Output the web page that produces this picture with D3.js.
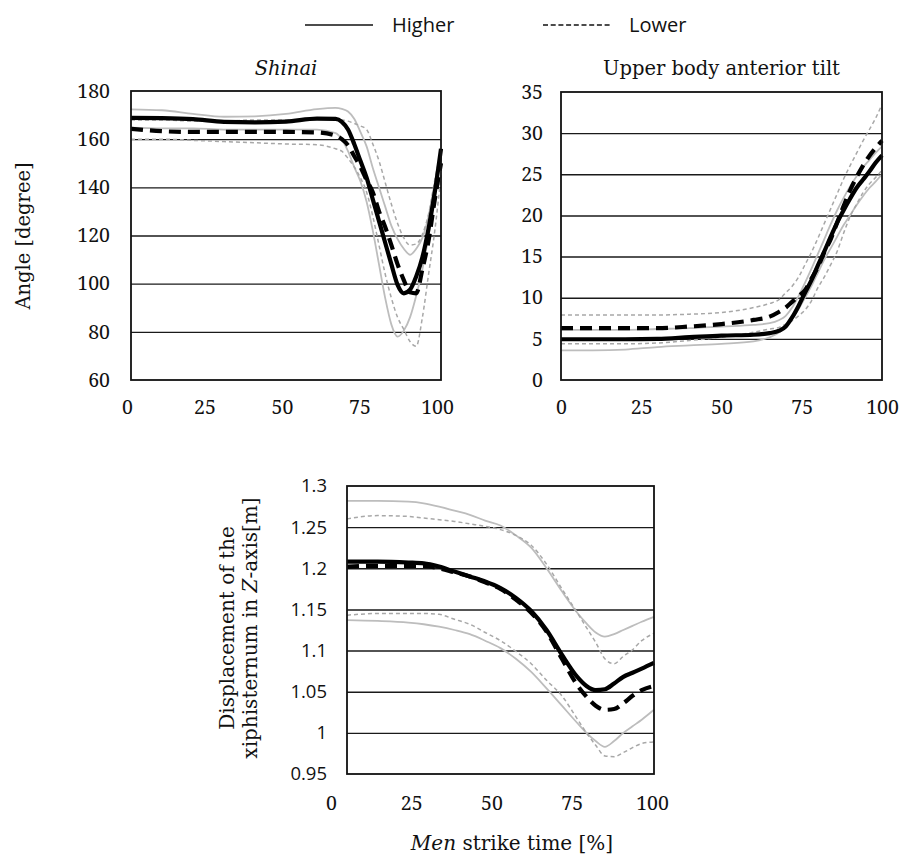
<!DOCTYPE html>
<html>
<head>
<meta charset="utf-8">
<script src="https://cdn.jsdelivr.net/npm/d3@7"></script>
<style>
  html, body { margin: 0; padding: 0; background: #fff; }
  svg { display: block; }
</style>
</head>
<body>
<svg id="chart" width="899" height="857"></svg>
<script>
// ---------------- DATA ----------------
const xTicks = [0, 25, 50, 75, 100];

// Panel 1: Shinai angle
const shinaiX = [0,10,20,30,40,50,60,66,68,70,72,74,76,78,80,82,84,86,88,90,92,94,96,98,100];
const shinaiHigherMean  = [168.8,168.7,168.3,167.2,167,167.3,168.5,168.4,167.2,164,158,151,144,135,126,117,108,99.5,96,97.5,103,111,123,138,156];
const shinaiLowerMean   = [164.3,163.3,163,163,163,163,162.8,161.5,160,157.5,153,148.5,143,138,130,123.5,116,108,101.5,96.4,96,106,118,135,150];
const shinaiHigherUpper = [172.4,172,170.5,169.3,169.5,170.5,172.5,173,172.6,171.5,168.5,163,157,148,140,132,124,118.5,114.5,112,114.5,119,128,142,155];
const shinaiHigherLower = [164.8,164.5,164.5,164,164,164,164,162.5,160,155,148.5,142.5,134,122,108,94,83,78,80.5,86,95,106,120,137,152];
const shinaiLowerUpper  = [168,168,167.5,167.5,168,168,168.3,168.3,168,167.5,166.5,165.5,164,158,151,142,133,125,119,116,116.5,120.5,129,143,156];
const shinaiLowerLower  = [160,160,159.5,159,158.5,158,157.7,156,155,152,148.5,144,138,128,116,104,94,86,81,76,74,86,104,122,145];
const shinaiYTicks = [60,80,100,120,140,160,180];

// Panel 2: Upper body anterior tilt
const tiltX = [0,10,20,30,40,50,60,65,68,70,72,74,76,78,80,82,84,86,88,90,92,94,96,98,100];
const tiltHigherMean  = [4.95,4.95,4.95,5.0,5.2,5.4,5.5,5.7,6.0,6.5,7.6,9.0,10.6,12.1,13.9,15.6,17.4,19.1,20.6,22.0,23.3,24.3,25.3,26.4,27.3];
const tiltLowerMean   = [6.3,6.3,6.3,6.3,6.5,6.8,7.3,7.7,8.3,8.8,9.5,10.2,10.9,12.3,13.7,15.5,17.1,19.1,21.1,23.0,24.6,26.0,27.2,28.2,29.1];
const tiltHigherUpper = [6.1,6.1,6.1,6.2,6.3,6.5,6.7,6.9,7.3,7.8,8.8,10.2,11.8,13.5,15.3,17.1,18.9,20.6,22.1,23.5,24.7,25.8,26.7,27.6,28.4];
const tiltHigherLower = [3.6,3.6,3.7,4.0,4.2,4.4,4.7,5.2,5.8,6.5,7.5,8.6,10.0,11.4,13.0,14.6,16.0,17.4,18.8,20.0,21.2,22.3,23.3,24.1,25.0];
const tiltLowerUpper  = [7.9,7.9,7.9,7.9,8.0,8.2,8.8,9.3,9.8,10.6,11.4,12.5,14.0,15.5,17.2,19.0,20.8,22.6,24.4,26.0,27.5,29.0,30.4,31.8,33.5];
const tiltLowerLower  = [4.4,4.4,4.4,4.5,4.8,5.2,5.8,6.2,6.4,6.8,7.2,7.8,8.5,9.6,11.2,12.5,14.0,15.6,17.8,19.8,21.3,22.7,23.8,24.6,25.5];
const tiltYTicks = [0,5,10,15,20,25,30,35];

// Panel 3: Displacement of the xiphisternum in Z-axis
const xiphX = [0,10,20,25,30,35,40,45,50,55,60,65,70,75,78,81,84,87,90,93,96,100];
const xiphHigherMean  = [1.208,1.208,1.207,1.206,1.202,1.196,1.19,1.184,1.176,1.164,1.148,1.125,1.095,1.068,1.057,1.052,1.053,1.06,1.068,1.073,1.078,1.085];
const xiphLowerMean   = [1.202,1.203,1.203,1.203,1.2,1.195,1.19,1.183,1.175,1.162,1.146,1.123,1.09,1.058,1.044,1.033,1.028,1.029,1.036,1.045,1.052,1.057];
const xiphHigherUpper = [1.282,1.282,1.281,1.279,1.275,1.27,1.265,1.258,1.252,1.24,1.225,1.2,1.172,1.146,1.133,1.122,1.117,1.12,1.125,1.13,1.135,1.141];
const xiphHigherLower = [1.137,1.136,1.134,1.132,1.129,1.125,1.12,1.112,1.103,1.09,1.074,1.054,1.033,1.012,1.0,0.99,0.983,0.99,1.0,1.008,1.016,1.028];
const xiphLowerUpper  = [1.26,1.264,1.263,1.261,1.259,1.257,1.254,1.251,1.247,1.24,1.228,1.205,1.175,1.146,1.128,1.11,1.09,1.084,1.093,1.101,1.112,1.121];
const xiphLowerLower  = [1.143,1.145,1.145,1.145,1.144,1.138,1.132,1.122,1.112,1.099,1.084,1.064,1.045,1.017,1.0,0.985,0.972,0.971,0.976,0.982,0.987,0.989];
const xiphYTicks = [0.95,1,1.05,1.1,1.15,1.2,1.25,1.3];

const legendLabels = ["Higher", "Lower"];

// ---------------- DRAW ----------------
const svg = d3.select("#chart");
const SERIF = '"DejaVu Serif", serif';
const TICKSERIF = '"Noto Serif", "DejaVu Serif", serif';
const SANS = '"Open Sans", "Liberation Sans", sans-serif';

const styles = {
  higherSD: { stroke: "#bdbdbd", width: 1.8, dash: null },
  lowerSD:  { stroke: "#a8a8a8", width: 1.5, dash: "4,3" },
  higherMean: { stroke: "#000", width: 4.2, dash: null },
  lowerMean:  { stroke: "#000", width: 4.2, dash: "12,7" }
};

function drawPanel(cfg) {
  const g = svg.append("g");
  const x = d3.scaleLinear().domain([0, 100]).range([cfg.left, cfg.right]);
  const y = d3.scaleLinear().domain(cfg.yDomain).range([cfg.bottom, cfg.top]);
  const w = cfg.right - cfg.left;

  // gridlines
  const inner = cfg.yTicks.filter(v => v !== cfg.yDomain[0] && v !== cfg.yDomain[1]);
  const grid = g.append("g")
    .attr("transform", `translate(${cfg.left},0)`)
    .call(d3.axisLeft(y).tickValues(inner).tickSize(-w).tickFormat(""));
  grid.select(".domain").remove();
  grid.selectAll("line").attr("stroke", "#1a1a1a").attr("stroke-width", 1.4);

  // y tick labels
  const ya = g.append("g")
    .attr("transform", `translate(${cfg.left},0)`)
    .call(d3.axisLeft(y).tickValues(cfg.yTicks).tickSize(0).tickPadding(cfg.yPad)
      .tickFormat(cfg.yFormat));
  ya.attr("font-family", null);
  ya.select(".domain").remove();
  ya.selectAll("text").style("font-family", cfg.yFont).style("font-size", cfg.yFontSize + "px").attr("fill", "#111");

  // x tick labels
  const xl = cfg.xLabelRange ? d3.scaleLinear().domain([0, 100]).range(cfg.xLabelRange) : x;
  const xa = g.append("g")
    .attr("transform", `translate(0,${cfg.bottom})`)
    .call(d3.axisBottom(xl).tickValues(xTicks).tickSize(0).tickPadding(cfg.xPad));
  xa.attr("font-family", null);
  xa.select(".domain").remove();
  xa.selectAll("text").style("font-family", TICKSERIF).style("font-size", "19.5px").attr("fill", "#111");

  // series
  const line = d3.line().x(d => x(d[0])).y(d => y(d[1])).curve(d3.curveMonotoneX);
  cfg.series.forEach(s => {
    const st = styles[s.style];
    g.append("path")
      .datum(cfg.xs.map((v, i) => [v, s.values[i]]))
      .attr("d", line)
      .attr("fill", "none")
      .attr("stroke", st.stroke)
      .attr("stroke-width", st.width)
      .attr("stroke-dasharray", st.dash)
      .attr("stroke-linejoin", "round");
  });

  // frame
  g.append("rect")
    .attr("x", cfg.left).attr("y", cfg.top)
    .attr("width", w).attr("height", cfg.bottom - cfg.top)
    .attr("fill", "none").attr("stroke", "#111").attr("stroke-width", 1.8);

  // title
  if (cfg.title) {
    const t = g.append("text")
      .attr("x", (cfg.left + cfg.right) / 2).attr("y", 75)
      .attr("text-anchor", "middle")
      .style("font-family", SERIF).style("font-size", "19.5px").attr("fill", "#111")
      .text(cfg.title);
    if (cfg.titleItalic) t.style("font-style", "italic");
  }
  return { x, y };
}

drawPanel({
  left: 131, right: 441, top: 91, bottom: 380,
  yDomain: [60, 180], yTicks: shinaiYTicks, yPad: 21, xPad: 20,
  xLabelRange: [127, 437],
  yFont: TICKSERIF, yFontSize: 19.5, yFormat: d3.format("d"),
  title: "Shinai", titleItalic: true,
  xs: shinaiX,
  series: [
    { values: shinaiHigherUpper, style: "higherSD" },
    { values: shinaiHigherLower, style: "higherSD" },
    { values: shinaiLowerUpper, style: "lowerSD" },
    { values: shinaiLowerLower, style: "lowerSD" },
    { values: shinaiLowerMean, style: "lowerMean" },
    { values: shinaiHigherMean, style: "higherMean" }
  ]
});

drawPanel({
  left: 561, right: 882, top: 92, bottom: 380,
  yDomain: [0, 35], yTicks: tiltYTicks, yPad: 18, xPad: 20,
  yFont: TICKSERIF, yFontSize: 19.5, yFormat: d3.format("d"),
  title: "Upper body anterior tilt", titleItalic: false,
  xs: tiltX,
  series: [
    { values: tiltHigherUpper, style: "higherSD" },
    { values: tiltHigherLower, style: "higherSD" },
    { values: tiltLowerUpper, style: "lowerSD" },
    { values: tiltLowerLower, style: "lowerSD" },
    { values: tiltLowerMean, style: "lowerMean" },
    { values: tiltHigherMean, style: "higherMean" }
  ]
});

drawPanel({
  left: 347, right: 654, top: 486, bottom: 774,
  yDomain: [0.95, 1.3], yTicks: xiphYTicks, yPad: 20, xPad: 22,
  xLabelRange: [331, 652],
  yFont: SANS, yFontSize: 18.5, yFormat: d => d3.format("")(+d.toFixed(2)),
  xs: xiphX,
  series: [
    { values: xiphHigherUpper, style: "higherSD" },
    { values: xiphHigherLower, style: "higherSD" },
    { values: xiphLowerUpper, style: "lowerSD" },
    { values: xiphLowerLower, style: "lowerSD" },
    { values: xiphLowerMean, style: "lowerMean" },
    { values: xiphHigherMean, style: "higherMean" }
  ]
});

// y-axis label for angles
svg.append("text")
  .attr("transform", "translate(30,236) rotate(-90)")
  .attr("text-anchor", "middle")
  .style("font-family", SERIF).style("font-size", "19.5px").attr("fill", "#111")
  .text("Angle [degree]");

// y-axis label for displacement (two lines)
const yl3 = svg.append("text")
  .attr("transform", "translate(0,628) rotate(-90)")
  .attr("text-anchor", "middle")
  .style("font-family", SERIF).style("font-size", "20px").attr("fill", "#111");
yl3.append("tspan").attr("x", 0).attr("y", 234).text("Displacement of the");
const t2 = yl3.append("tspan").attr("x", 0).attr("y", 257);
t2.append("tspan").text("xiphisternum in ");
t2.append("tspan").style("font-style", "italic").text("Z");
t2.append("tspan").text("-axis[m]");

// x-axis label
const xlab = svg.append("text")
  .attr("x", 512).attr("y", 850)
  .attr("text-anchor", "middle")
  .style("font-family", SERIF).style("font-size", "20px").attr("fill", "#111");
xlab.append("tspan").style("font-style", "italic").text("Men");
xlab.append("tspan").text(" strike time  [%]");

// legend
const legend = svg.append("g");
const legendItems = [
  { label: legendLabels[0], x1: 305, x2: 373, tx: 392, dash: null },
  { label: legendLabels[1], x1: 543, x2: 612, tx: 629, dash: "5,2.7" }
];
legendItems.forEach(it => {
  legend.append("line")
    .attr("x1", it.x1).attr("x2", it.x2).attr("y1", 25).attr("y2", 25)
    .attr("stroke", "#111").attr("stroke-width", 1.5)
    .attr("stroke-dasharray", it.dash);
  legend.append("text")
    .attr("x", it.tx).attr("y", 32)
    .style("font-family", SANS).style("font-size", "20px").attr("fill", "#111")
    .text(it.label);
});
</script>
</body>
</html>
